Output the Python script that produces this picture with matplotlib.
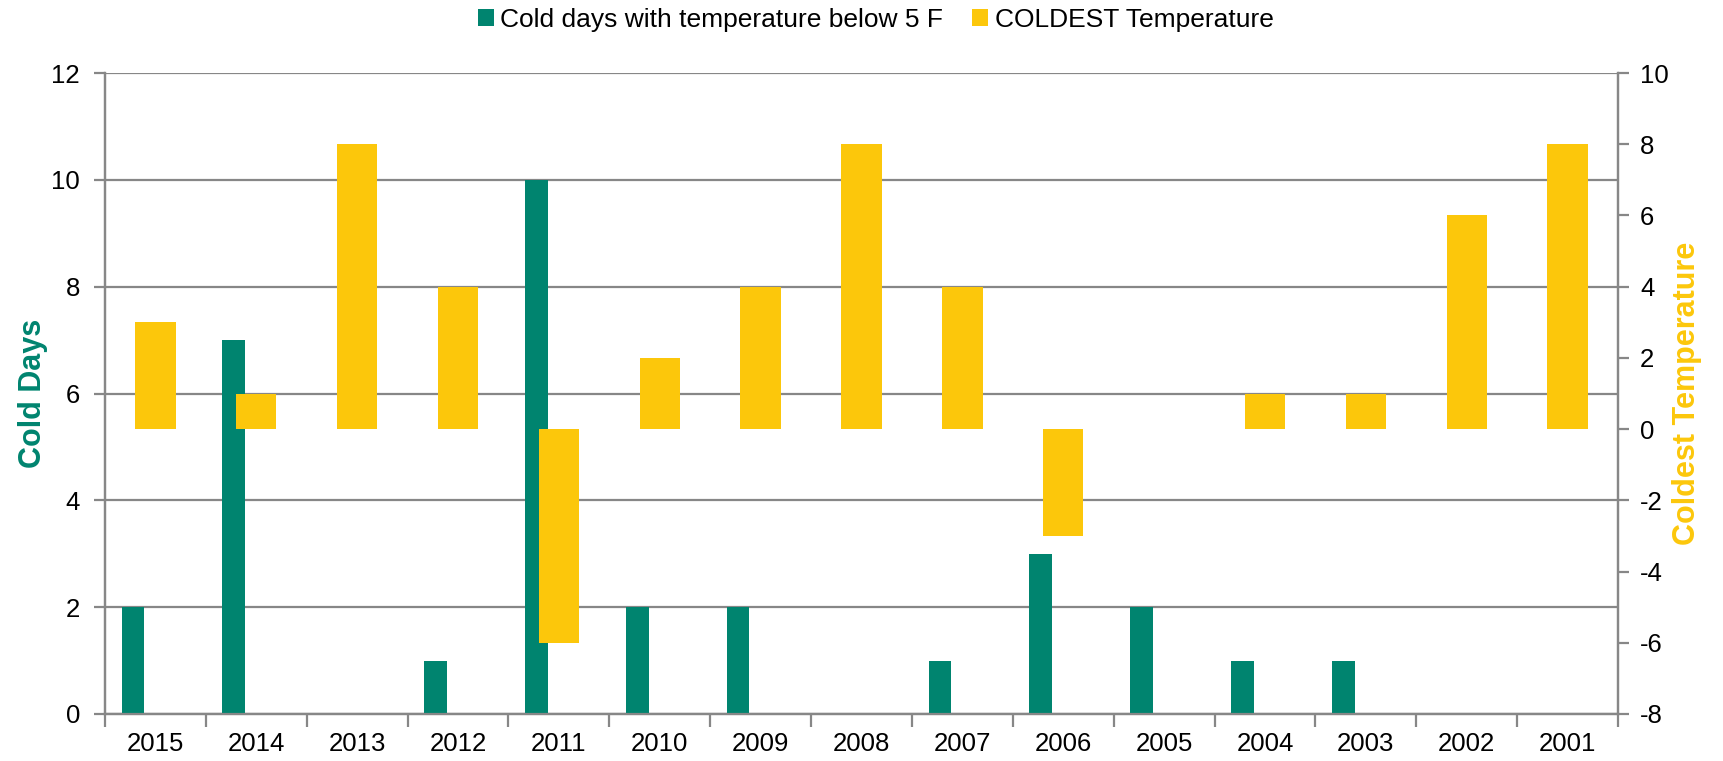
import numpy as np
import matplotlib.pyplot as plt

plt.rcParams['font.family'] = ['Liberation Sans', 'DejaVu Sans']
plt.rcParams['axes.unicode_minus'] = False

years = ['2015', '2014', '2013', '2012', '2011', '2010', '2009', '2008',
         '2007', '2006', '2005', '2004', '2003', '2002', '2001']
cold_days = [2, 7, 0, 1, 10, 2, 2, 0, 1, 3, 2, 1, 1, 0, 0]
coldest_temp = [3, 1, 8, 4, -6, 2, 4, 8, 4, -3, 0, 1, 1, 6, 8]

green = '#00846F'
yellow = '#FCC70B'
gray = '#878787'

fig, ax = plt.subplots(figsize=(17.24, 7.61), dpi=100)
fig.subplots_adjust(left=0.0609, right=0.9385, top=0.904, bottom=0.0618)

x = np.arange(len(years))
b1 = ax.bar(x - 0.223, cold_days, width=0.225, color=green, zorder=3,
            label='Cold days with temperature below 5 F')
ax.set_ylim(0, 12)
ax.set_yticks(np.arange(0, 13, 2))
ax.set_xlim(-0.5, len(years) - 0.5)
ax.yaxis.grid(True, color=gray, linewidth=1.6, zorder=0)
ax.set_axisbelow(True)

ax2 = ax.twinx()
b2 = ax2.bar(x, coldest_temp, width=0.4, color=yellow, zorder=3,
             label='COLDEST Temperature')
ax2.set_ylim(-8, 10)
ax2.set_yticks(np.arange(-8, 11, 2))

# category boundary ticks, labels in the middle
ax.set_xticks(np.arange(-0.5, len(years), 1))
ax.set_xticklabels([])
ax.set_xticks(x, minor=True)
ax.set_xticklabels(years, minor=True)
ax.tick_params(axis='x', which='minor', length=0, pad=13, labelsize=18.5)
ax.tick_params(axis='x', which='major', length=9, width=1.6, color=gray)

ax.tick_params(axis='y', length=8, width=1.6, color=gray, pad=10, labelsize=18.5)
ax2.tick_params(axis='y', length=8, width=1.6, color=gray, pad=8, labelsize=18.5)

for a in (ax, ax2):
    a.spines['top'].set_visible(False)
    for s in ('left', 'right', 'bottom'):
        a.spines[s].set_color(gray)
        a.spines[s].set_linewidth(1.6)

ax.set_ylabel('Cold Days', color=green, fontsize=22, fontweight='bold', labelpad=2)
ax2.set_ylabel('Coldest Temperature', color=yellow, fontsize=22, fontweight='bold',
               labelpad=2)

fig.legend(handles=[b1, b2], loc='center', bbox_to_anchor=(0.508, 0.974), ncol=2,
           frameon=False, fontsize=19, handlelength=0.6, handleheight=0.6,
           handletextpad=0.25, columnspacing=1.1)

fig.savefig('out.png', dpi=100)
